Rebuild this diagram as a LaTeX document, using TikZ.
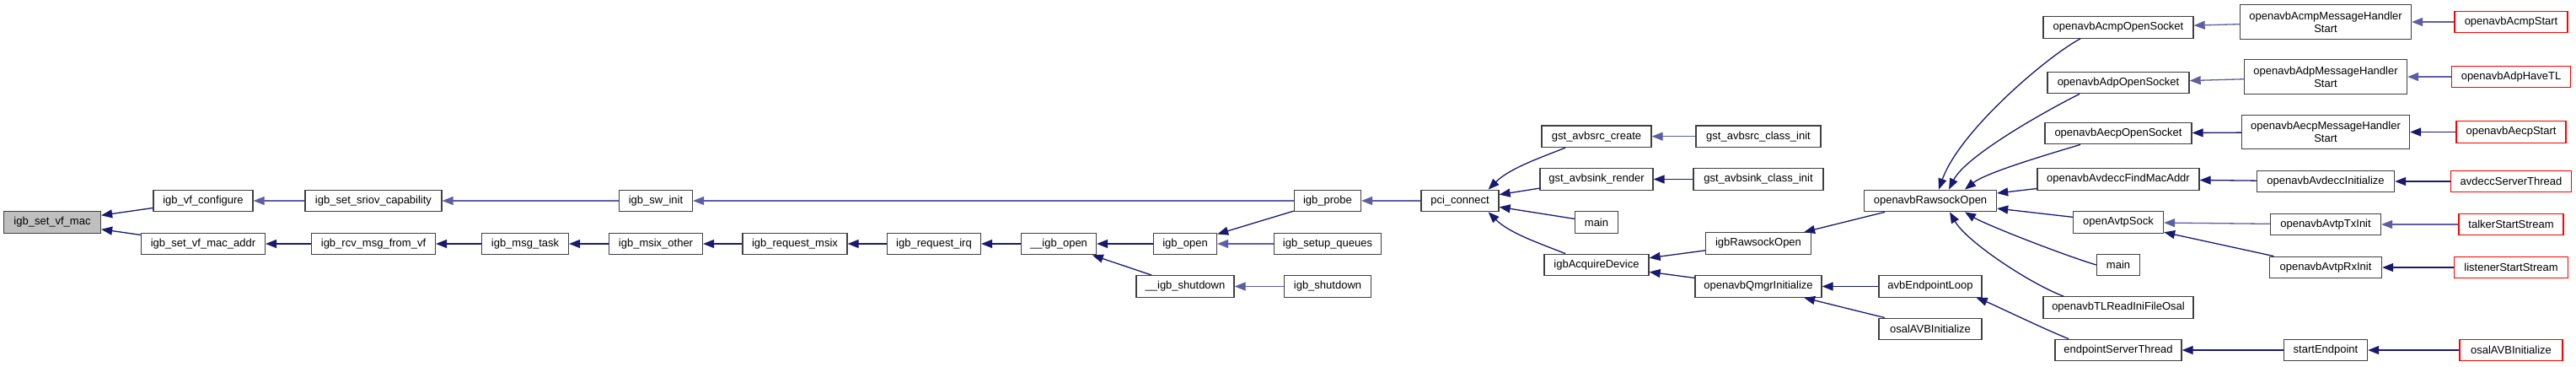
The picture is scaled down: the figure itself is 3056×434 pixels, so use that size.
\documentclass[tikz,border=0pt]{standalone}
\usepackage{fontspec}
\setmainfont{Liberation Sans}
\usetikzlibrary{arrows.meta}
\definecolor{edgec}{HTML}{191970}
\definecolor{edgel}{HTML}{5E5EA2}
\definecolor{boxc}{HTML}{404040}
\definecolor{redc}{HTML}{FF0000}
\definecolor{grayc}{HTML}{BFBFBF}
\begin{document}
\begin{tikzpicture}[x=1pt,y=-1pt,
 box/.style={draw=boxc, line width=1.3pt, fill=white, minimum height=25.5pt, inner sep=0pt, font=\fontsize{13}{15}\selectfont, align=center},
 tall/.style={box, minimum height=40.5pt},
 redbox/.style={box, draw=redc},
 conn/.style={draw=edgec, line width=1.3pt, arrows={Triangle[length=13pt,width=10pt]-}},
 lconn/.style={conn, draw=edgel}]
\fill[white] (0,0) rectangle (3056,434);
\useasboundingbox (0,0) rectangle (3056,434);
% nodes
\node[box, fill=grayc, minimum width=115pt] (n1) at (62,263.5) {igb\_set\_vf\_mac};
\node[box, minimum width=118pt] (n2) at (241,238) {igb\_vf\_configure};
\node[box, minimum width=147pt] (n3) at (241,289) {igb\_set\_vf\_mac\_addr};
\node[box, minimum width=162pt] (n4) at (443,238) {igb\_set\_sriov\_capability};
\node[box, minimum width=147pt] (n5) at (443,289) {igb\_rcv\_msg\_from\_vf};
\node[box, minimum width=103pt] (n6) at (623,289) {igb\_msg\_task};
\node[box, minimum width=87pt] (n7) at (778,238) {igb\_sw\_init};
\node[box, minimum width=111pt] (n8) at (778,289) {igb\_msix\_other};
\node[box, minimum width=124pt] (n9) at (943,289) {igb\_request\_msix};
\node[box, minimum width=111pt] (n10) at (1108,289) {igb\_request\_irq};
\node[box, minimum width=89pt] (n11) at (1256,289) {\_\_igb\_open};
\node[box, minimum width=75pt] (n12) at (1406,289) {igb\_open};
\node[box, minimum width=116pt] (n13) at (1406,339.5) {\_\_igb\_shutdown};
\node[box, minimum width=79pt] (n14) at (1575,238) {igb\_probe};
\node[box, minimum width=127pt] (n15) at (1575,289) {igb\_setup\_queues};
\node[box, minimum width=103pt] (n16) at (1575,339.5) {igb\_shutdown};
\node[box, minimum width=92pt] (n17) at (1732,238) {pci\_connect};
\node[box, minimum width=130pt] (n18) at (1894,161.7) {gst\_avbsrc\_create};
\node[box, minimum width=134pt] (n19) at (1894,212.5) {gst\_avbsink\_render};
\node[box, minimum width=51pt] (n20) at (1894,263.5) {main};
\node[box, minimum width=124pt] (n21) at (1894,314) {igbAcquireDevice};
\node[box, minimum width=148pt] (n22) at (2086,161.7) {gst\_avbsrc\_class\_init};
\node[box, minimum width=154pt] (n23) at (2086,212.5) {gst\_avbsink\_class\_init};
\node[box, minimum width=125pt] (n24) at (2086,288.5) {igbRawsockOpen};
\node[box, minimum width=150pt] (n25) at (2086,339.5) {openavbQmgrInitialize};
\node[box, minimum width=157pt] (n26) at (2290,238) {openavbRawsockOpen};
\node[box, minimum width=122pt] (n27) at (2290,339.5) {avbEndpointLoop};
\node[box, minimum width=122pt] (n28) at (2290,390) {osalAVBInitialize};
\node[box, minimum width=178pt] (n29) at (2513,32.5) {openavbAcmpOpenSocket};
\node[box, minimum width=168pt] (n30) at (2513,98) {openavbAdpOpenSocket};
\node[box, minimum width=174pt] (n31) at (2513,158) {openavbAecpOpenSocket};
\node[box, minimum width=192pt] (n32) at (2513,212.5) {openavbAvdeccFindMacAddr};
\node[box, minimum width=107pt] (n33) at (2513,263.5) {openAvtpSock};
\node[box, minimum width=51pt] (n34) at (2513,314) {main};
\node[box, minimum width=178pt] (n35) at (2513,364.5) {openavbTLReadIniFileOsal};
\node[box, minimum width=150pt] (n36) at (2513,415) {endpointServerThread};
\node[tall, minimum width=203pt] (n37) at (2759,26) {openavbAcmpMessageHandler\\Start};
\node[tall, minimum width=193pt] (n38) at (2759,91) {openavbAdpMessageHandler\\Start};
\node[tall, minimum width=199pt] (n39) at (2759,156.5) {openavbAecpMessageHandler\\Start};
\node[box, minimum width=163pt] (n40) at (2759,215) {openavbAvdeccInitialize};
\node[box, minimum width=131pt] (n41) at (2759,266) {openavbAvtpTxInit};
\node[box, minimum width=133pt] (n42) at (2759,317) {openavbAvtpRxInit};
\node[box, minimum width=99pt] (n43) at (2759,415) {startEndpoint};
\node[redbox, minimum width=134pt] (n44) at (2979,26) {openavbAcmpStart};
\node[redbox, minimum width=141pt] (n45) at (2979,91) {openavbAdpHaveTL};
\node[redbox, minimum width=130pt] (n46) at (2979,156.5) {openavbAecpStart};
\node[redbox, minimum width=143pt] (n47) at (2979,215) {avdeccServerThread};
\node[redbox, minimum width=124pt] (n48) at (2979,266) {talkerStartStream};
\node[redbox, minimum width=135pt] (n49) at (2979,317) {listenerStartStream};
\node[redbox, minimum width=122pt] (n50) at (2979,415) {osalAVBInitialize};
% connectors (arrow at callee)
\draw[conn] (n1) -- (n2);
\draw[conn] (n1) -- (n3);
\draw[lconn] (n2) -- (n4);
\draw[conn] (n3) -- (n5);
\draw[lconn] (n4) -- (n7);
\draw[conn] (n5) -- (n6);
\draw[conn] (n6) -- (n8);
\draw[lconn] (n7) -- (n14);
\draw[conn] (n8) -- (n9);
\draw[conn] (n9) -- (n10);
\draw[conn] (n10) -- (n11);
\draw[conn] (n11) -- (n12);
\draw[conn] (n11) -- (n13);
\draw[conn] (n12) -- (n14);
\draw[lconn] (n12) -- (n15);
\draw[lconn] (n13) -- (n16);
\draw[lconn] (n14) -- (n17);
\draw[conn] ([xshift=-13pt]n17.north east) .. controls +(25,-25) and +(-30,12) .. ([xshift=-37pt]n18.south);
\draw[conn] (n17) -- (n19);
\draw[conn] (n17) -- (n20);
\draw[conn] ([xshift=-13pt]n17.south east) .. controls +(25,25) and +(-30,-12) .. ([xshift=-37pt]n21.north);
\draw[lconn] (n18) -- (n22);
\draw[conn] (n19) -- (n23);
\draw[conn] (n21) -- (n24);
\draw[conn] (n21) -- (n25);
\draw[conn] (n24) -- (n26);
\draw[conn] (n25) -- (n27);
\draw[conn] (n25) -- (n28);
\draw[conn] ([xshift=10pt]n26.north) .. controls +(25,-70) and +(-38,20) .. ([xshift=-45pt]n29.south);
\draw[conn] ([xshift=22pt]n26.north) .. controls +(20,-40) and +(-40,20) .. ([xshift=-46pt]n30.south);
\draw[conn] ([xshift=41pt]n26.north) .. controls +(25,-20) and +(-40,12) .. ([xshift=-45pt]n31.south);
\draw[conn] (n26) -- (n32);
\draw[conn] (n26) -- (n33);
\draw[conn] ([xshift=41pt]n26.south) .. controls +(25,15) and +(-40,-12) .. (n34.west);
\draw[conn] ([xshift=23pt]n26.south) .. controls +(20,35) and +(-40,-15) .. ([xshift=-65pt]n35.north);
\draw[conn] ([xshift=-7pt]n27.south east) .. controls +(20,8) and +(-30,-12) .. ([xshift=-59pt]n36.north);
\draw[lconn] (n29) -- (n37);
\draw[lconn] (n30) -- (n38);
\draw[conn] (n31) -- (n39);
\draw[conn] (n32) -- (n40);
\draw[lconn] (n33) -- (n41);
\draw[conn] (n33) -- (n42);
\draw[conn] (n36) -- (n43);
\draw[lconn] (n37) -- (n44);
\draw[lconn] (n38) -- (n45);
\draw[conn] (n39) -- (n46);
\draw[conn] (n40) -- (n47);
\draw[lconn] (n41) -- (n48);
\draw[conn] (n42) -- (n49);
\draw[conn] (n43) -- (n50);
\end{tikzpicture}
\end{document}
